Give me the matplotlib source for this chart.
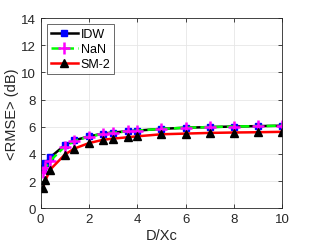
import numpy as np
import matplotlib
matplotlib.use("Agg")
import matplotlib.pyplot as plt

# D/Xc sample points
d_xc = [0.1, 0.2, 0.4, 1, 1.4, 2, 2.6, 3, 3.6, 4, 5, 6, 7, 8, 9, 10]
# <RMSE> in dB for each method
rmse_idw = [2.95, 3.3, 3.75, 4.65, 5.0, 5.3, 5.5, 5.58, 5.67, 5.72, 5.85, 5.93, 5.98, 6.02, 6.05, 6.08]
rmse_nan = [2.65, 3.0, 3.5, 4.55, 4.95, 5.28, 5.48, 5.57, 5.66, 5.72, 5.85, 5.93, 5.98, 6.02, 6.05, 6.08]
rmse_sm2 = [1.5, 2.05, 2.85, 3.95, 4.4, 4.8, 5.05, 5.13, 5.23, 5.3, 5.45, 5.5, 5.55, 5.58, 5.6, 5.63]

plt.rcParams['font.family'] = ['Liberation Sans', 'DejaVu Sans']

fig = plt.figure(figsize=(3.12, 2.51), dpi=100)
ax = fig.add_axes([0.13, 0.166, 0.775, 0.758])

ax.plot(d_xc, rmse_idw, color='black', lw=1.8, marker='s', ms=4.5,
        mfc='blue', mec='blue', label='IDW')
ax.plot(d_xc, rmse_nan, color='#00ff00', lw=1.8, ls='--', marker='+', ms=8,
        mew=1.8, mec='magenta', label='NaN')
ax.plot(d_xc, rmse_sm2, color='red', lw=1.8, marker='^', ms=5.5,
        mfc='black', mec='black', label='SM-2')

ax.set_xlim(0, 10)
ax.set_ylim(0, 14)
ax.set_xticks(np.arange(0, 11, 2))
ax.set_yticks(np.arange(0, 15, 2))
ax.tick_params(direction='in', labelsize=9.5, length=3, width=0.6,
               top=True, right=True, colors='#262626')
ax.grid(True, color='#e6e6e6', lw=0.6)
ax.set_axisbelow(True)
for s in ax.spines.values():
    s.set_linewidth(0.6)
    s.set_color('#262626')

ax.set_xlabel('D/Xc', fontsize=10.5, color='#262626', labelpad=2)
ax.set_ylabel('<RMSE> (dB)', fontsize=10.5, color='#262626', labelpad=1)

leg = ax.legend(loc='upper left', fontsize=9, frameon=True, fancybox=False,
                edgecolor='#262626', borderpad=0.3, handlelength=2.2,
                handletextpad=0.2, labelspacing=0.25, borderaxespad=0.5)
leg.get_frame().set_linewidth(0.6)

fig.savefig('out.png', dpi=100)
